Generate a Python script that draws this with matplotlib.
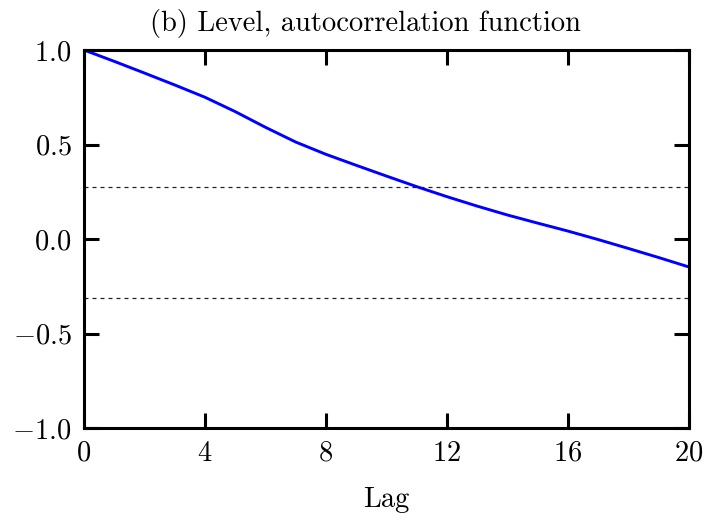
import matplotlib
matplotlib.use("Agg")
import matplotlib.pyplot as plt
import numpy as np

plt.rcParams['font.family'] = 'serif'
plt.rcParams['font.serif'] = ['cmr10']
plt.rcParams['mathtext.fontset'] = 'cm'
plt.rcParams['axes.formatter.use_mathtext'] = True

# autocorrelation of the level, lags 0..20
lags = np.arange(0, 21)
acf = [1.0, 0.94, 0.878, 0.815, 0.75, 0.674, 0.591, 0.513, 0.448, 0.39, 0.333,
       0.277, 0.224, 0.174, 0.127, 0.084, 0.042, -0.003, -0.050, -0.098, -0.148]
band_upper = 0.274
band_lower = -0.312

fig = plt.figure(figsize=(7.07, 5.17), dpi=100)
ax = fig.add_axes([0.1188, 0.1721, 0.8557, 0.7312])

ax.plot(lags, acf, color='#0000ff', lw=2.1)
for y in (band_upper, band_lower):
    ax.axhline(y, color='#222222', lw=0.9, dashes=(3.2, 3.2))

ax.set_xlim(0, 20)
ax.set_ylim(-1, 1)
ax.set_xticks([0, 4, 8, 12, 16, 20])
ax.set_yticks([-1.0, -0.5, 0.0, 0.5, 1.0])
ax.set_yticklabels([r'$-1.0$', r'$-0.5$', r'$0.0$', r'$0.5$', r'$1.0$'])
ax.set_xticklabels([r'$0$', r'$4$', r'$8$', r'$12$', r'$16$', r'$20$'])

ax.tick_params(direction='in', length=10.8, width=2.2, top=True, right=True,
               labelsize=20.5, pad=9)
for s in ax.spines.values():
    s.set_linewidth(2.2)

title = ax.set_title('(b) Level, autocorrelation function', fontsize=20.5, pad=14)
title.set_x(0.466)
ax.set_xlabel('Lag', fontsize=20.5, labelpad=14)

fig.savefig('out.png', dpi=100)
